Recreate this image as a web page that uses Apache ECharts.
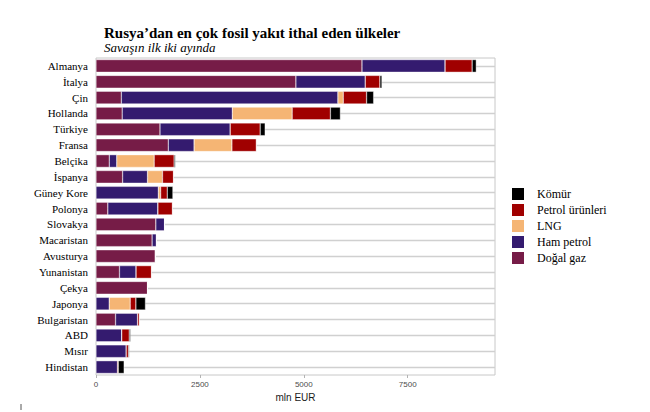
<!DOCTYPE html>
<html>
  <head>
    <meta charset="utf-8">
    <script src="https://cdn.jsdelivr.net/npm/echarts@6/dist/echarts.min.js"></script>
  </head>
  <body style="margin:0;background:#fff">
    <div id="chart" style="width:650px;height:412px;"></div>
    <script>
      var countries = ["Almanya", "İtalya", "Çin", "Hollanda", "Türkiye", "Fransa", "Belçika", "İspanya",
        "Güney Kore", "Polonya", "Slovakya", "Macaristan", "Avusturya", "Yunanistan", "Çekya",
        "Japonya", "Bulgaristan", "ABD", "Mısır", "Hindistan"];
      // mln EUR
      var dogalGaz       = [6400, 4810, 610, 630, 1540, 1740, 320, 640, 0, 285, 1440, 1350, 1430, 565, 1240, 0, 470, 0, 0, 0];
      var hamPetrol      = [2000, 1670, 5210, 2650, 1690, 620, 180, 600, 1500, 1205, 210, 105, 0, 400, 0, 318, 530, 620, 727, 517];
      var lng            = [0, 0, 130, 1440, 0, 910, 900, 360, 55, 0, 0, 0, 0, 0, 0, 505, 0, 0, 0, 0];
      var petrolUrunleri = [650, 350, 560, 920, 720, 590, 480, 265, 160, 350, 0, 0, 0, 370, 0, 137, 45, 180, 55, 20];
      var komur          = [100, 50, 170, 240, 120, 0, 30, 0, 135, 0, 0, 0, 0, 0, 0, 230, 0, 30, 20, 140];
      var xTicks = [0, 2500, 5000, 7500];
      var legendOrder = ["Kömür", "Petrol ürünleri", "LNG", "Ham petrol", "Doğal gaz"];

      var serif = "'Liberation Serif', 'DejaVu Serif', serif";
      var sans = "'Liberation Sans', Arial, sans-serif";

      function stackSeries(name, data, color) {
        return {
          name: name, type: "bar", stack: "total", data: data, barWidth: "80%",
          itemStyle: { color: color, borderColor: "#ffffff", borderWidth: 0.4 },
          emphasis: { disabled: true }
        };
      }

      var chart = echarts.init(document.getElementById("chart"), null, { renderer: "svg" });
      chart.setOption({
        animation: false,
        title: {
          text: "Rusya’dan en çok fosil yakıt ithal eden ülkeler",
          subtext: "Savaşın ilk iki ayında",
          left: 99, top: 20, itemGap: 1,
          textStyle: { fontFamily: serif, fontSize: 15, fontWeight: "bold", color: "#000" },
          subtextStyle: { fontFamily: serif, fontSize: 13, fontStyle: "italic", color: "#000" }
        },
        legend: {
          orient: "vertical", left: 505, top: 181, itemWidth: 14, itemHeight: 14, itemGap: 0,
          icon: "rect", data: legendOrder,
          textStyle: { fontFamily: serif, fontSize: 12, lineHeight: 14, color: "#000", padding: [0, 0, 0, 7] }
        },
        grid: { left: 96, right: 155, top: 58, bottom: 37, show: true, borderColor: "#c8c8c8", borderWidth: 1 },
        xAxis: {
          type: "value", min: 0, max: 9600, interval: 2500,
          name: "mln EUR", nameLocation: "middle", nameGap: 15,
          nameTextStyle: { fontFamily: sans, fontSize: 10, color: "#1a1a1a" },
          axisLine: { show: false },
          axisTick: { show: true, length: 3, lineStyle: { color: "#b3b3b3" } },
          axisLabel: { fontFamily: sans, fontSize: 8, color: "#4d4d4d", margin: 5, showMaxLabel: false,
            formatter: function (v) { return xTicks.indexOf(v) >= 0 ? String(v) : ""; } },
          splitLine: { show: false }
        },
        yAxis: {
          type: "category", inverse: true, data: countries,
          axisLine: { show: false }, axisTick: { show: false },
          axisLabel: { fontFamily: serif, fontSize: 11, color: "#000", margin: 8 },
          splitLine: { show: true, alignWithLabel: true, lineStyle: { color: "#d0d0d0", width: 1.3 } }
        },
        series: [
          stackSeries("Doğal gaz", dogalGaz, "#761c47"),
          stackSeries("Ham petrol", hamPetrol, "#341b6f"),
          stackSeries("LNG", lng, "#f5b574"),
          stackSeries("Petrol ürünleri", petrolUrunleri, "#a00000"),
          stackSeries("Kömür", komur, "#000000")
        ],
        graphic: [{ type: "line", shape: { x1: 21, y1: 404, x2: 21, y2: 410 }, style: { stroke: "#555", lineWidth: 1 } }]
      });
    </script>
  </body>
</html>
